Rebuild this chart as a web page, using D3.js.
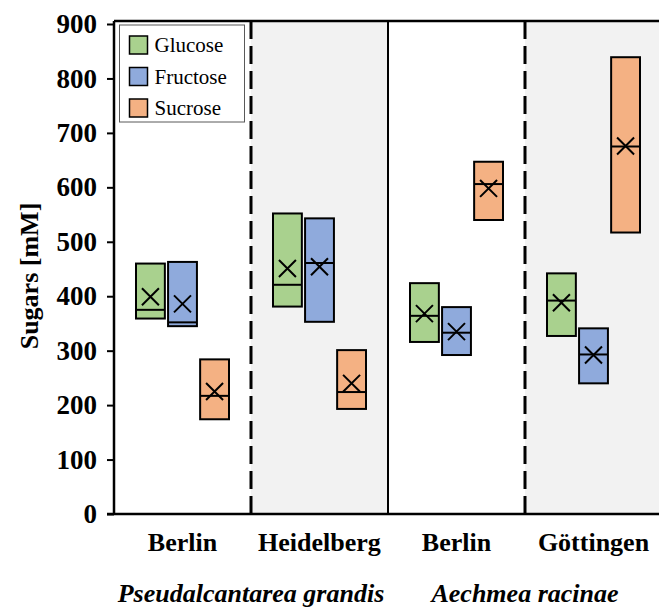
<!DOCTYPE html>
<html>
<head>
<meta charset="utf-8">
<script src="https://cdn.jsdelivr.net/npm/d3@7"></script>
<style>
  body { margin: 0; background: #fff; }
  text { font-family: "Liberation Serif", "Times New Roman", serif; }
</style>
</head>
<body>
<div id="chart"></div>
<script>
// data
const locations = ["Berlin", "Heidelberg", "Berlin", "Göttingen"];
const species = ["Pseudalcantarea grandis", "Aechmea racinae"];
const sugars = ["Glucose", "Fructose", "Sucrose"];
const colors = ["#a9d18e", "#8faadc", "#f4b183"];
const yTicks = [0, 100, 200, 300, 400, 500, 600, 700, 800, 900];

// one value per location, per sugar
const q1 = {
    Glucose: [359, 381, 316, 327],
    Fructose: [345, 353, 292, 240],
    Sucrose: [174, 193, 540, 517]
};
const median = {
    Glucose: [375, 421, 364, 392],
    Fructose: [352, 461, 333, 293],
    Sucrose: [217, 224, 606, 675]
};
const q3 = {
    Glucose: [460, 552, 424, 442],
    Fructose: [463, 543, 380, 341],
    Sucrose: [284, 301, 647, 839]
};
const mean = {
    Glucose: [399, 451, 368, 388],
    Fructose: [386, 454, 335, 292],
    Sucrose: [225, 240, 598, 676]
};

const width = 659, height = 607;
const mLeft = 114, mTop = 21, mRight = 662, mBottom = 514;

const svg = d3.select("#chart")
    .append("svg")
    .attr("width", width)
    .attr("height", height);

const x0 = d3.scaleBand()
    .domain(d3.range(locations.length))
    .range([mLeft, mRight]);

const x1 = d3.scaleBand()
    .domain(sugars)
    .range([22, 115])
    .paddingInner(0.1);

const y = d3.scaleLinear()
    .domain([0, 900])
    .range([mBottom, 24]);

const color = d3.scaleOrdinal().domain(sugars).range(colors);

// grey backgrounds for 2nd and 4th location
svg.append("g")
    .selectAll("rect")
    .data([1, 3])
    .join("rect")
    .attr("x", i => x0(i))
    .attr("y", mTop)
    .attr("width", x0.bandwidth())
    .attr("height", mBottom - mTop)
    .attr("fill", "#f2f2f2");

// separators: dashed inside a species, solid between species
svg.append("g")
    .selectAll("line")
    .data([1, 2, 3])
    .join("line")
    .attr("x1", i => x0(i))
    .attr("x2", i => x0(i))
    .attr("y1", mTop)
    .attr("y2", mBottom)
    .attr("stroke", "#000")
    .attr("stroke-width", i => i == 2 ? 2 : 3)
    .attr("stroke-dasharray", i => i == 2 ? null : "18,7");

// flatten to one row per box
const boxes = [];
locations.forEach((loc, i) => {
    sugars.forEach(s => {
        boxes.push({ loc: i, sugar: s, q1: q1[s][i], med: median[s][i], q3: q3[s][i], mean: mean[s][i] });
    });
});

const g = svg.append("g")
    .selectAll("g")
    .data(boxes)
    .join("g")
    .attr("transform", d => `translate(${x0(d.loc) + x1(d.sugar)},0)`);

g.append("rect")
    .attr("y", d => y(d.q3))
    .attr("width", x1.bandwidth())
    .attr("height", d => y(d.q1) - y(d.q3))
    .attr("fill", d => color(d.sugar))
    .attr("stroke", "#000")
    .attr("stroke-width", 2);

g.append("line")
    .attr("x1", 0)
    .attr("x2", x1.bandwidth())
    .attr("y1", d => y(d.med))
    .attr("y2", d => y(d.med))
    .attr("stroke", "#000")
    .attr("stroke-width", 2);

g.append("path")
    .attr("d", d3.symbol().type(d3.symbolX).size(190))
    .attr("transform", d => `translate(${x1.bandwidth() / 2},${y(d.mean)})`)
    .attr("fill", "none")
    .attr("stroke", "#000")
    .attr("stroke-width", 2);

// frame: left, top, bottom
svg.append("line")
    .attr("x1", mLeft).attr("x2", mLeft)
    .attr("y1", mTop).attr("y2", mBottom)
    .attr("stroke", "#000").attr("stroke-width", 2.5);
svg.append("line")
    .attr("x1", mLeft).attr("x2", mRight)
    .attr("y1", mTop).attr("y2", mTop)
    .attr("stroke", "#000").attr("stroke-width", 2.5);
svg.append("line")
    .attr("x1", mLeft - 7).attr("x2", mRight)
    .attr("y1", mBottom).attr("y2", mBottom)
    .attr("stroke", "#000").attr("stroke-width", 2.5);

// y axis
const yAxis = svg.append("g")
    .attr("transform", `translate(${mLeft},0)`)
    .call(d3.axisLeft(y).tickValues(yTicks).tickSize(7).tickPadding(10));
yAxis.select(".domain").remove();
yAxis.selectAll(".tick line").attr("stroke-width", 2);
yAxis.selectAll(".tick text")
    .style("font-family", "'Liberation Serif', 'Times New Roman', serif")
    .style("font-size", "27px")
    .style("font-weight", "bold")
    .attr("fill", "#000");

svg.append("text")
    .attr("transform", "translate(38,276) rotate(-90)")
    .attr("text-anchor", "middle")
    .style("font-size", "26px")
    .style("font-weight", "bold")
    .text("Sugars [mM]");

// location labels
svg.append("g")
    .selectAll("text")
    .data(locations)
    .join("text")
    .attr("x", (d, i) => x0(i) + x0.bandwidth() / 2)
    .attr("y", 551)
    .attr("text-anchor", "middle")
    .style("font-size", "26px")
    .style("font-weight", "bold")
    .text(d => d);

// species labels, centered on each pair
svg.append("g")
    .selectAll("text")
    .data(species)
    .join("text")
    .attr("x", (d, i) => x0(i * 2 + 1))
    .attr("y", 602)
    .attr("text-anchor", "middle")
    .style("font-size", "26px")
    .style("font-weight", "bold")
    .style("font-style", "italic")
    .text(d => d);

// legend
const legend = svg.append("g").attr("transform", "translate(119.5,25)");
legend.append("rect")
    .attr("width", 125)
    .attr("height", 97)
    .attr("fill", "#fff")
    .attr("stroke", "#595959")
    .attr("stroke-width", 1);
const item = legend.selectAll("g")
    .data(sugars)
    .join("g")
    .attr("transform", (d, i) => `translate(10,${11 + i * 31.5})`);
item.append("rect")
    .attr("width", 18)
    .attr("height", 18)
    .attr("fill", d => color(d))
    .attr("stroke", "#000")
    .attr("stroke-width", 1.5);
item.append("text")
    .attr("x", 25)
    .attr("y", 16)
    .style("font-size", "21px")
    .text(d => d);
</script>
</body>
</html>
